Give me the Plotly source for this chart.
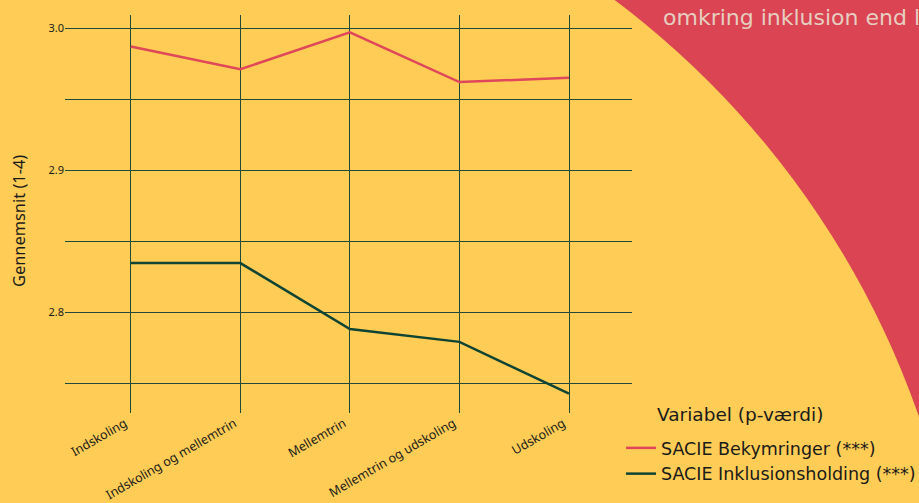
import plotly.graph_objects as go

categories = ["Indskoling", "Indskoling og mellemtrin", "Mellemtrin",
              "Mellemtrin og udskoling", "Udskoling"]
bekymringer = [2.987, 2.971, 2.997, 2.962, 2.965]
inklusion = [2.8345, 2.8345, 2.788, 2.779, 2.7425]
series_names = ["SACIE Bekymringer (***)", "SACIE Inklusionsholding (***)"]
ytick_vals = [2.8, 2.9, 3.0]
ytick_text = ["2.8", "2.9", "3.0"]

RED = "#DA4453"
YELLOW = "#FFCD55"
GREEN = "#0F4434"
GRID = "#1F4A3A"
FONT = "Noto Sans"
WIDE = "DejaVu Sans"

W, H = 919, 503
L, R, T, B = 65, 287, 15, 90
pw, ph = W - L - R, H - T - B

def px_x(p):
    return (p - L) / pw

def px_y(p):
    return (H - B - p) / ph

fig = go.Figure()
fig.add_trace(go.Scatter(x=categories, y=bekymringer, mode="lines",
                         name=series_names[0], line=dict(color="#E0475A", width=2.5)))
fig.add_trace(go.Scatter(x=categories, y=inklusion, mode="lines",
                         name=series_names[1], line=dict(color=GREEN, width=2.5)))

# yellow circle over red background
cx, cy, r = 84, 707, 884
fig.add_shape(type="circle", xref="paper", yref="paper",
              x0=px_x(cx - r), x1=px_x(cx + r), y0=px_y(cy + r), y1=px_y(cy - r),
              fillcolor=YELLOW, line=dict(width=0), layer="below")

fig.add_annotation(text="omkring inklusion end l", xref="paper", yref="paper",
                   x=px_x(661), y=px_y(18), xanchor="left", yanchor="middle",
                   showarrow=False, font=dict(family=WIDE, size=22, color="#E6CFC0"))

fig.add_annotation(text="Variabel (p-værdi)", xref="paper", yref="paper",
                   x=px_x(655), y=px_y(414), xanchor="left", yanchor="middle",
                   showarrow=False, font=dict(family=WIDE, size=18.5, color="#1A1A1A"))

fig.add_annotation(text="Gennemsnit (1-4)", xref="paper", yref="paper",
                   x=px_x(18), y=px_y(221), xanchor="center", yanchor="middle",
                   textangle=-90, showarrow=False,
                   font=dict(family=FONT, size=16.4, color="#1A1A1A"))

fig.update_layout(
    width=W, height=H,
    margin=dict(l=L, r=R, t=T, b=B, autoexpand=False),
    paper_bgcolor=RED,
    plot_bgcolor="rgba(0,0,0,0)",
    font=dict(family=FONT, color="#1A1A1A"),
    showlegend=True,
    legend=dict(
        font=dict(size=17.5, family=WIDE),
        x=px_x(621), y=px_y(430), xanchor="left", yanchor="top",
        bgcolor="rgba(0,0,0,0)", itemwidth=30, tracegroupgap=0,
    ),
    xaxis=dict(
        range=[-0.6, 4.575], showgrid=True, gridcolor=GRID, gridwidth=1,
        tickangle=-30, tickfont=dict(size=12.5), zeroline=False, showline=False,
        ticks="", automargin=False, ticklabelshift=-6,
    ),
    yaxis=dict(
        range=[2.7289, 3.0092], tickvals=ytick_vals, ticktext=ytick_text,
        showgrid=True, gridcolor=GRID, gridwidth=1, tickfont=dict(size=11),
        zeroline=False, showline=False, automargin=False,
        minor=dict(dtick=0.05, tick0=2.75, showgrid=True, gridcolor=GRID, gridwidth=1),
    ),
)

fig.write_html("out.html", config={"displayModeBar": False},
               post_script="document.body.style.margin='0';document.body.style.overflow='hidden';")
